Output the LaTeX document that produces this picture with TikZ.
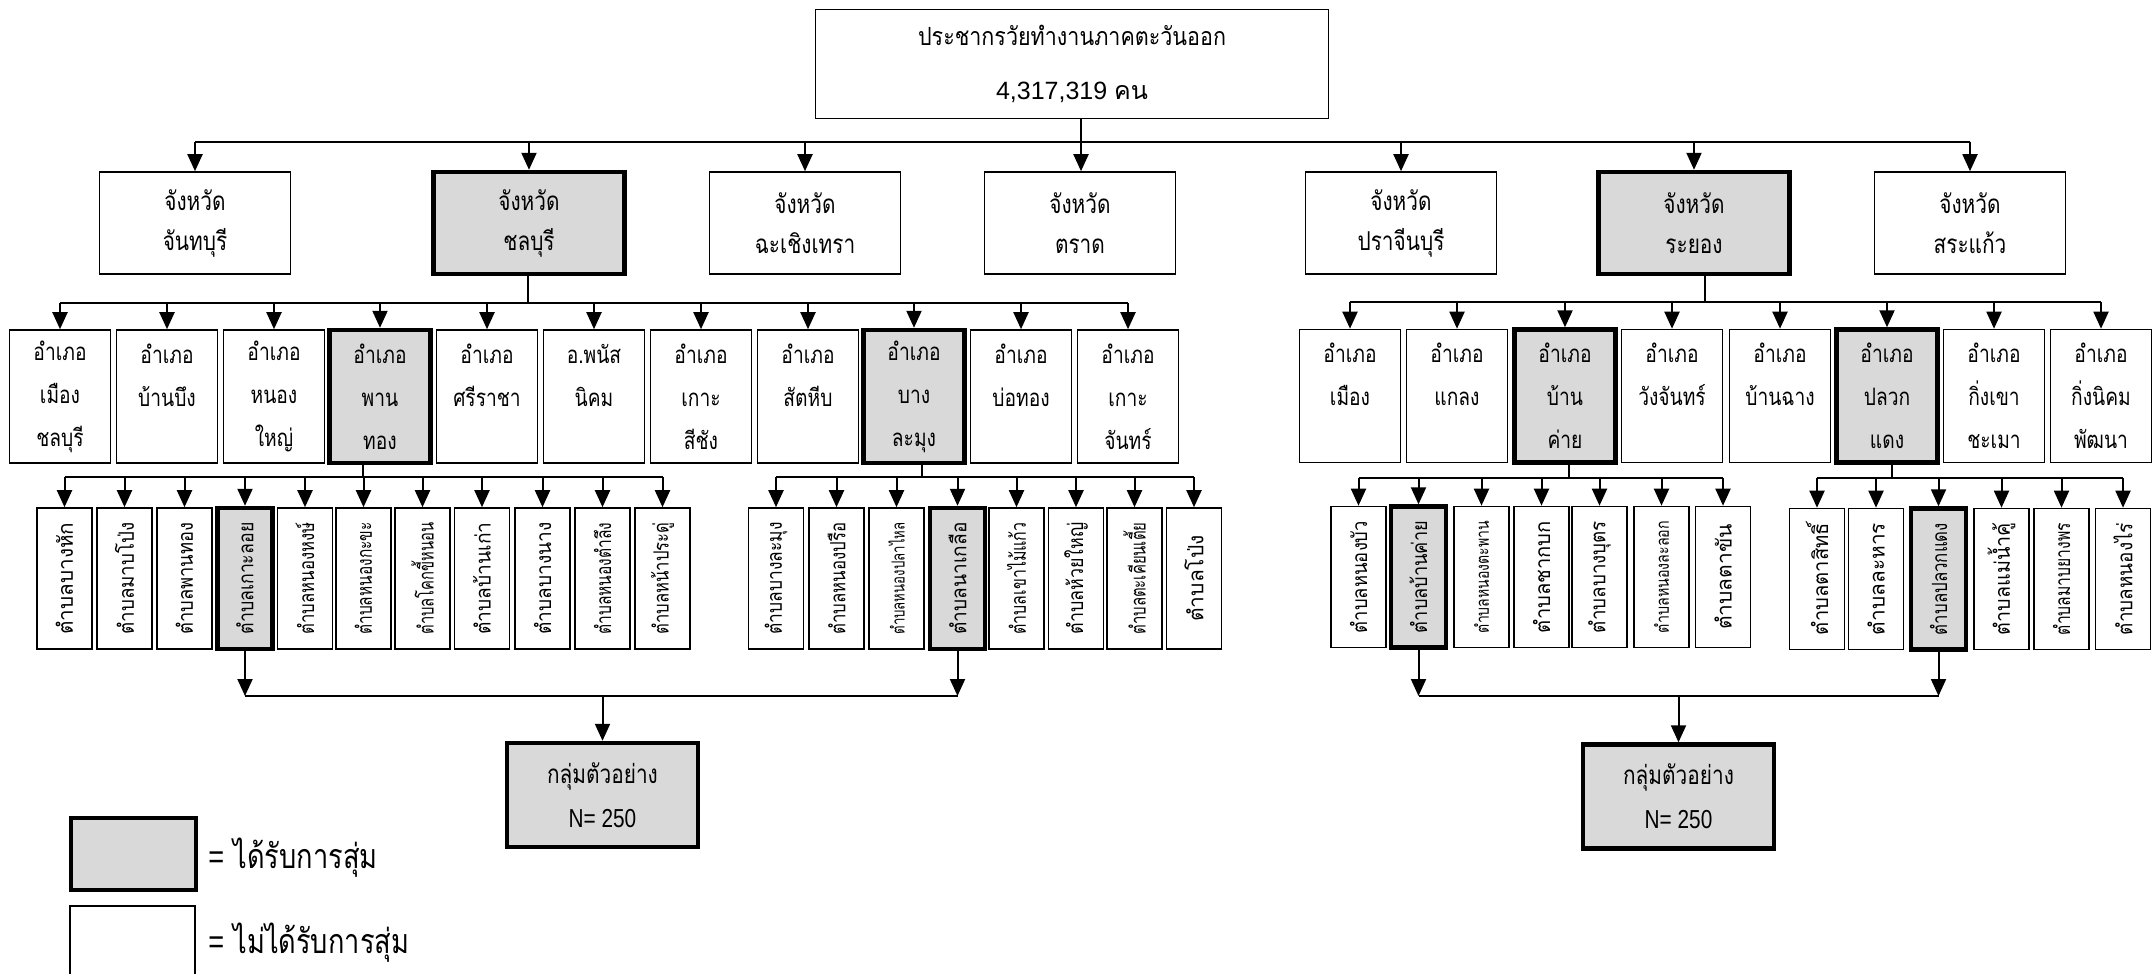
\documentclass[tikz,border=0pt]{standalone}
\usepackage{graphicx}
\usepackage{fontspec}
\setmainfont{Liberation Sans}
\newfontfamily\thai[Script=Thai]{Loma}
\newfontfamily\thaim[Script=Thai,FakeStretch=0.86]{Loma}
\newfontfamily\thaic[Script=Thai,FakeStretch=0.8]{Loma}
\newfontfamily\latc[FakeStretch=0.8]{Liberation Sans}
\usetikzlibrary{arrows.meta}
\definecolor{selgrey}{HTML}{D9D9D9}
\newsavebox\tbbox
\newcommand\tb[2][10.5]{\sbox\tbbox{\thai\fontsize{#1}{12}\selectfont #2}%
 \ifdim\wd\tbbox>56pt \rotatebox{90}{\resizebox{56pt}{\height}{\usebox\tbbox}}%
 \else\rotatebox{90}{\usebox\tbbox}\fi}
\tikzset{
 box/.style={draw=black, line width=0.8pt, fill=white, inner sep=0pt, align=center},
 sel/.style={box, fill=selgrey, line width=2.2pt},
 bx/.style 2 args={minimum width=#1*0.5pt, minimum height=#2*0.5pt},
 conn/.style={line width=1pt},
 arr/.style={conn, -{Triangle[width=7.5pt,length=8.5pt]}},
 provf/.style={font=\thaic\fontsize{13}{20}\selectfont},
 distf/.style={font=\thaic\fontsize{12}{21.5}\selectfont},
 prov/.style={bx={191}{102}, provf},
 dist/.style={bx={101}{133}, distf},
 tam/.style={bx={55}{141}},
 samp/.style={sel, bx={191}{104}, font=\thaic\fontsize{13}{22}\selectfont},
}
\begin{document}
\begin{tikzpicture}[x=0.5pt,y=-0.5pt]
\useasboundingbox (0,0) rectangle (2152,974);
\clip (0,0) rectangle (2152,974);
% top
\node[box, bx={513}{109}, font=\fontsize{12.5}{27}\selectfont] (top) at (1072,64)
 {{\thaim\fontsize{12.5}{27}\selectfont ประชากรวัยทำงานภาคตะวันออก}\\4,317,319 {\thai คน}};
% provinces
\node[box,prov] (p1) at (195,223) {จังหวัด\\จันทบุรี};
\node[sel,prov] (p2) at (529,223) {จังหวัด\\ชลบุรี};
\node[box,prov] (p3) at (805,223) {จังหวัด\\ฉะเชิงเทรา};
\node[box,prov] (p4) at (1080,223) {จังหวัด\\ตราด};
\node[box,prov] (p5) at (1401,223) {จังหวัด\\ปราจีนบุรี};
\node[sel,prov] (p6) at (1694,223) {จังหวัด\\ระยอง};
\node[box,prov] (p7) at (1970,223) {จังหวัด\\สระแก้ว};
% districts Chonburi
\node[box,dist] (d1) at (60,396.5) {อำเภอ\\เมือง\\ชลบุรี};
\node[box,dist] (d2) at (167,396.5) {อำเภอ\\บ้านบึง\\\mbox{}};
\node[box,dist] (d3) at (274,396.5) {อำเภอ\\หนอง\\ใหญ่};
\node[sel,dist] (d4) at (380,396.5) {อำเภอ\\พาน\\ทอง};
\node[box,dist] (d5) at (487,396.5) {อำเภอ\\ศรีราชา\\\mbox{}};
\node[box,dist] (d6) at (594,396.5) {อ.พนัส\\นิคม\\\mbox{}};
\node[box,dist] (d7) at (701,396.5) {อำเภอ\\เกาะ\\สีชัง};
\node[box,dist] (d8) at (808,396.5) {อำเภอ\\สัตหีบ\\\mbox{}};
\node[sel,dist] (d9) at (914,396.5) {อำเภอ\\บาง\\ละมุง};
\node[box,dist] (d10) at (1021,396.5) {อำเภอ\\บ่อทอง\\\mbox{}};
\node[box,dist] (d11) at (1128,396.5) {อำเภอ\\เกาะ\\จันทร์};
% districts Rayong
\node[box,dist] (r1) at (1350,396) {อำเภอ\\เมือง\\\mbox{}};
\node[box,dist] (r2) at (1457,396) {อำเภอ\\แกลง\\\mbox{}};
\node[sel,dist] (r3) at (1565,396) {อำเภอ\\บ้าน\\ค่าย};
\node[box,dist] (r4) at (1672,396) {อำเภอ\\วังจันทร์\\\mbox{}};
\node[box,dist] (r5) at (1780,396) {อำเภอ\\บ้านฉาง\\\mbox{}};
\node[sel,dist] (r6) at (1887,396) {อำเภอ\\ปลวก\\แดง};
\node[box,dist] (r7) at (1994,396) {อำเภอ\\กิ่งเขา\\ชะเมา};
\node[box,dist] (r8) at (2101,396) {อำเภอ\\กิ่งนิคม\\พัฒนา};
% tambons A (Phan Thong)
\node[box,tam] (a1) at (64.5,578.5) {\tb{ตำบลบางหัก}};
\node[box,tam] (a2) at (124.5,578.5) {\tb{ตำบลมาบโป่ง}};
\node[box,tam] (a3) at (184.5,578.5) {\tb{ตำบลพานทอง}};
\node[sel,tam] (a4) at (245,578.5) {\tb{ตำบลเกาะลอย}};
\node[box,tam] (a5) at (305,578.5) {\tb{ตำบลหนองหงษ์}};
\node[box,tam] (a6) at (363.5,578.5) {\tb{ตำบลหนองกะขะ}};
\node[box,tam] (a7) at (422.5,578.5) {\tb{ตำบลโคกขี้หนอน}};
\node[box,tam] (a8) at (482,578.5) {\tb{ตำบลบ้านเก่า}};
\node[box,tam] (a9) at (542.5,578.5) {\tb{ตำบลบางนาง}};
\node[box,tam] (a10) at (602.5,578.5) {\tb{ตำบลหนองตำลึง}};
\node[box,tam] (a11) at (662.5,578.5) {\tb{ตำบลหน้าประดู่}};
% tambons B (Bang Lamung)
\node[box,tam] (b1) at (776,578.5) {\tb{ตำบลบางละมุง}};
\node[box,tam] (b2) at (836.5,578.5) {\tb{ตำบลหนองปรือ}};
\node[box,tam] (b3) at (896.5,578.5) {\tb[9]{ตำบลหนองปลาไหล}};
\node[sel,tam] (b4) at (957.5,578.5) {\tb{ตำบลนาเกลือ}};
\node[box,tam] (b5) at (1016.5,578.5) {\tb{ตำบลเขาไม้แก้ว}};
\node[box,tam] (b6) at (1076,578.5) {\tb{ตำบลห้วยใหญ่}};
\node[box,tam] (b7) at (1134.5,578.5) {\tb{ตำบลตะเคียนเตี้ย}};
\node[box,tam] (b8) at (1194,578.5) {\tb{ตำบลโป่ง}};
% tambons C (Ban Khai)
\node[box,tam] (c1) at (1358.5,577) {\tb{ตำบลหนองบัว}};
\node[sel,tam] (c2) at (1418.5,577) {\tb{ตำบลบ้านค่าย}};
\node[box,tam] (c3) at (1481.5,577) {\tb[9]{ตำบลหนองตะพาน}};
\node[box,tam] (c4) at (1541.5,577) {\tb{ตำบลชากบก}};
\node[box,tam] (c5) at (1599.5,577) {\tb{ตำบลบางบุตร}};
\node[box,tam] (c6) at (1661.5,577) {\tb[9]{ตำบลหนองละลอก}};
\node[box,tam] (c7) at (1723,577) {\tb{ตำบลตาขัน}};
% tambons D (Pluak Daeng)
\node[box,tam] (e1) at (1817,579) {\tb{ตำบลตาสิทธิ์}};
\node[box,tam] (e2) at (1876,579) {\tb{ตำบลละหาร}};
\node[sel,tam] (e3) at (1938.5,579) {\tb{ตำบลปลวกแดง}};
\node[box,tam] (e4) at (2001.5,579) {\tb{ตำบลแม่น้ำคู้}};
\node[box,tam] (e5) at (2061.5,579) {\tb{ตำบลมาบยางพร}};
\node[box,tam] (e6) at (2123,579) {\tb{ตำบลหนองไร่}};
% samples
\node[samp] (s1) at (602.5,795) {กลุ่มตัวอย่าง\\{\latc N= 250}};
\node[samp] (s2) at (1678.5,796.5) {กลุ่มตัวอย่าง\\{\latc N= 250}};
% legend
\node[sel, bx={125}{72}] (lg1) at (133.5,854) {};
\node[anchor=west, inner sep=0pt, font=\thaic\fontsize{17}{20}\selectfont] (lt1) at (208,858) {{\latc =} ได้รับการสุ่ม};
\node[box, bx={125}{100}] (lg2) at (132.5,956) {};
\node[anchor=west, inner sep=0pt, font=\thaic\fontsize{17}{20}\selectfont] (lt2) at (208,943) {{\latc =} ไม่ได้รับการสุ่ม};
% connectors: top -> provinces
\coordinate (tbus) at (1081,142);
\draw[conn] (top.south -| tbus) -- (tbus);
\draw[conn] (p1.north |- tbus) -- (p7.north |- tbus);
\foreach \n in {p1,p2,p3,p5,p6,p7} \draw[arr] (\n.north |- tbus) -- (\n.north);
\draw[arr] (tbus) -- (p4.north -| tbus);
% Chonburi -> districts
\coordinate (cbus) at (528,303);
\draw[conn] (p2.south -| cbus) -- (cbus);
\draw[conn] (d1.north |- cbus) -- (d11.north |- cbus);
\foreach \n in {d1,d2,d3,d4,d5,d6,d7,d8,d9,d10,d11} \draw[arr] (\n.north |- cbus) -- (\n.north);
% Rayong -> districts
\coordinate (rbus) at (1705,302);
\draw[conn] (p6.south -| rbus) -- (rbus);
\draw[conn] (r1.north |- rbus) -- (r8.north |- rbus);
\foreach \n in {r1,r2,r3,r4,r5,r6,r7,r8} \draw[arr] (\n.north |- rbus) -- (\n.north);
% Phan Thong -> tambons
\coordinate (abus) at (363,477);
\draw[conn] (d4.south -| abus) -- (abus);
\draw[conn] (a1.north |- abus) -- (a11.north |- abus);
\foreach \n in {a1,a2,a3,a4,a5,a6,a7,a8,a9,a10,a11} \draw[arr] (\n.north |- abus) -- (\n.north);
% Bang Lamung -> tambons
\coordinate (bbus) at (922,477);
\draw[conn] (d9.south -| bbus) -- (bbus);
\draw[conn] (b1.north |- bbus) -- (b8.north |- bbus);
\foreach \n in {b1,b2,b3,b4,b5,b6,b7,b8} \draw[arr] (\n.north |- bbus) -- (\n.north);
% Ban Khai -> tambons
\coordinate (cbus2) at (1569,478);
\draw[conn] (r3.south -| cbus2) -- (cbus2);
\draw[conn] (c1.north |- cbus2) -- (c7.north |- cbus2);
\foreach \n in {c1,c2,c3,c4,c5,c6,c7} \draw[arr] (\n.north |- cbus2) -- (\n.north);
% Pluak Daeng -> tambons
\coordinate (ebus) at (1892,478);
\draw[conn] (r6.south -| ebus) -- (ebus);
\draw[conn] (e1.north |- ebus) -- (e6.north |- ebus);
\foreach \n in {e1,e2,e3,e4,e5,e6} \draw[arr] (\n.north |- ebus) -- (\n.north);
% selected tambons -> samples
\coordinate (lbus) at (602.5,696);
\draw[arr] (a4.south) -- (a4.south |- lbus);
\draw[arr] (b4.south) -- (b4.south |- lbus);
\draw[conn] (a4.south |- lbus) -- (b4.south |- lbus);
\draw[arr] (s1.north |- lbus) -- (s1.north);
\coordinate (rbus2) at (1678.5,696);
\draw[arr] (c2.south) -- (c2.south |- rbus2);
\draw[arr] (e3.south) -- (e3.south |- rbus2);
\draw[conn] (c2.south |- rbus2) -- (e3.south |- rbus2);
\draw[arr] (s2.north |- rbus2) -- (s2.north);
\end{tikzpicture}
\end{document}
